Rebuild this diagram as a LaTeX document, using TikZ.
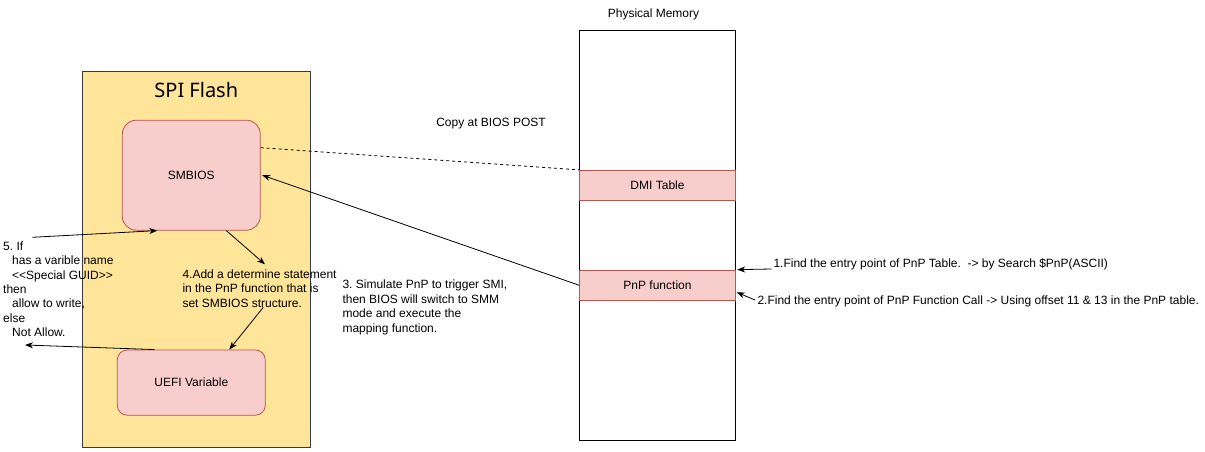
\documentclass[tikz,border=0pt]{standalone}
\usepackage{fontspec}
\setmainfont{Liberation Sans}
\newfontfamily\titlefont{Noto Sans}
\usetikzlibrary{arrows.meta,calc}
\definecolor{flashfill}{HTML}{FFE599}
\definecolor{flashdraw}{HTML}{36393D}
\definecolor{pinkfill}{HTML}{F8CECC}
\definecolor{pinkdraw}{HTML}{B85450}
\tikzset{
  txt/.style={font=\fontsize{12}{14.4}\selectfont\frenchspacing, inner sep=0pt, align=left},
  pinkbox/.style={draw=pinkdraw, fill=pinkfill, line width=0.8pt},
  conn/.style={draw=black, line width=0.8pt, -{Stealth[length=8pt,width=6pt,inset=2.5pt]}},
}
\begin{document}
\begin{tikzpicture}[x=1pt,y=-1pt]
\useasboundingbox (0,0) rectangle (1205,452);
% SPI flash container
\node[draw=flashdraw, fill=flashfill, line width=0.8pt, minimum width=227.6pt, minimum height=376pt, inner sep=0pt] (flash) at (196.5,259.7) {};
\node[font=\titlefont\fontsize{20}{24}\selectfont, inner sep=0pt] (flashtitle) at (196.3,90.5) {SPI Flash};
% SMBIOS
\node[pinkbox, rounded corners=14pt, minimum width=138pt, minimum height=110pt, inner sep=0pt, font=\fontsize{12}{14}\selectfont] (smbios) at (191.3,175.2) {SMBIOS};
% UEFI Variable
\node[pinkbox, rounded corners=10pt, minimum width=148pt, minimum height=65.3pt, inner sep=0pt, font=\fontsize{12}{14}\selectfont] (uefi) at (191.3,382.6) {UEFI Variable};
% Physical memory
\node[draw=black, fill=white, line width=0.8pt, minimum width=155.6pt, minimum height=409.7pt, inner sep=0pt] (mem) at (657.5,235.2) {};
\node[font=\fontsize{12}{14}\selectfont, inner sep=0pt] (memlabel) at (653.5,14) {Physical Memory};
\node[pinkbox, minimum width=155.6pt, minimum height=30pt, inner sep=0pt, font=\fontsize{12}{14}\selectfont] (dmi) at (657.5,185.3) {DMI Table};
\node[pinkbox, minimum width=155.6pt, minimum height=30.5pt, inner sep=0pt, font=\fontsize{12}{14}\selectfont] (pnp) at (657.5,285.3) {PnP function};
% texts
\node[txt, anchor=center] (copy) at (491,124) {Copy at BIOS POST};
\node[txt, anchor=north west] (t5) at (3,241.5) {5. If\\\hspace*{9pt}has a varible name\\\hspace*{9pt}<\kern0pt<\kern0pt Special GUID>\kern0pt>\\then\\\hspace*{9pt}allow to write,\\else\\\hspace*{9pt}Not Allow.};
\node[txt, anchor=north west] (t4) at (182.3,269.6) {4.Add a determine statement\\in the PnP function that is\\set SMBIOS structure.};
\node[txt, anchor=north west] (t3) at (342.3,280) {3. Simulate PnP to trigger SMI,\\then BIOS will switch to SMM\\mode and execute the\\mapping function.};
\node[txt, anchor=west] (t1) at (773.3,264) {1.Find the entry point of PnP Table.\ \ -> by Search \$PnP(ASCII)};
\node[txt, anchor=west] (t2) at (757.3,301) {2.Find the entry point of PnP Function Call -> Using offset 11 \& 13 in the PnP table.};
% free ends
\coordinate (c5) at (32.3,237.3);
\coordinate (c4) at (265,264.3);
\coordinate (c4b) at (263.3,307.3);
\coordinate (cleft) at (25,345);
\coordinate (c1) at (771.7,269);
\coordinate (c2) at (755,300);
% connectors
\draw[dashed, line width=0.8pt, dash pattern=on 3pt off 3pt] ([yshift=27.5pt]smbios.east) -- (dmi.north west);
\draw[conn] (pnp.west) -- ([xshift=1.5pt]smbios.east);
\draw[conn] (c5) -- ([xshift=-34pt]smbios.south);
\draw[conn] ([xshift=35pt]smbios.south) -- (c4);
\draw[conn] (c4b) -- ([xshift=38pt]uefi.north);
\draw[conn] ([xshift=-37pt]uefi.north) -- (cleft);
\draw[conn] (c1) -- ([xshift=1.5pt]pnp.north east);
\draw[conn] (c2) -- ([xshift=1pt,yshift=-7pt]pnp.east);
\end{tikzpicture}
\end{document}
